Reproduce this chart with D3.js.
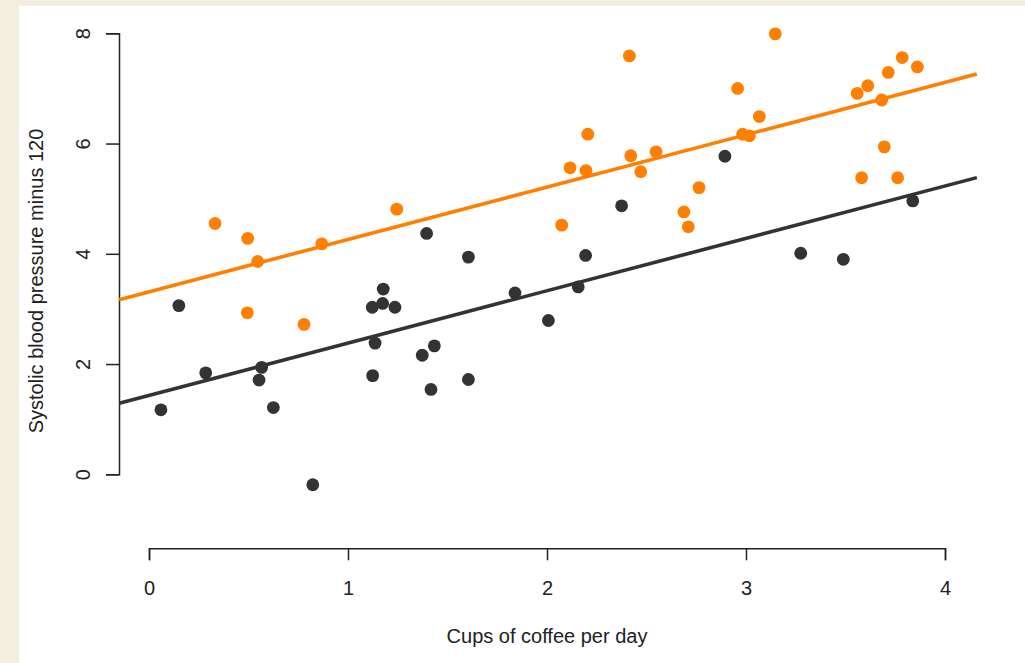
<!DOCTYPE html>
<html>
<head>
<meta charset="utf-8">
<script src="https://cdn.jsdelivr.net/npm/d3@7"></script>
<style>
    body { margin: 0; background: #f2efe1; }
    svg { display: block; }
    .axis path, .axis line { stroke: #222; stroke-width: 1.5; }
    .axis text, .title { font-family: "Liberation Sans", Arial, sans-serif; font-size: 20px; fill: #222; }
</style>
</head>
<body>
<svg class="chart"></svg>
<script>
// cups of coffee per day / systolic BP minus 120
var blackX = [0.06, 0.15, 0.285, 0.566, 0.553, 0.625, 0.823, 1.122, 1.177, 1.174, 1.236, 1.136, 1.124, 1.395,
        1.373, 1.434, 1.417, 1.605, 1.605, 1.839, 2.007, 2.157, 2.194, 2.375, 2.894, 3.275, 3.489, 3.838];
var blackY = [1.17, 3.06, 1.84, 1.94, 1.71, 1.21, -0.19, 3.03, 3.36, 3.10, 3.03, 2.38, 1.79, 4.37,
        2.16, 2.33, 1.54, 3.94, 1.72, 3.29, 2.79, 3.40, 3.97, 4.87, 5.77, 4.01, 3.90, 4.96];
var orangeX = [0.332, 0.496, 0.546, 0.494, 0.779, 0.868, 1.245, 2.074, 2.116, 2.196, 2.205, 2.414, 2.421, 2.471,
        2.548, 2.688, 2.710, 2.764, 2.958, 2.983, 3.017, 3.067, 3.147, 3.559, 3.581, 3.612, 3.682, 3.695,
        3.715, 3.762, 3.785, 3.861];
var orangeY = [4.55, 4.28, 3.86, 2.93, 2.72, 4.18, 4.81, 4.52, 5.56, 5.51, 6.17, 7.59, 5.78, 5.49,
        5.85, 4.76, 4.49, 5.20, 7.00, 6.17, 6.14, 6.49, 7.99, 6.91, 5.38, 7.05, 6.79, 5.94,
        7.29, 5.38, 7.56, 7.39];

// fitted lines (same slope, different intercepts)
var fitSlope = 0.95;
var fitIntercepts = [1.43, 3.31];
var lineExtent = [-0.15, 4.16];

var xTicks = [0, 1, 2, 3, 4];
var yTicks = [0, 2, 4, 6, 8];

var seriesColors = ["#333333", "#ff7f00"];

var width = 1025, height = 663;

var svg = d3.select(".chart")
        .attr("width", width)
        .attr("height", height);

svg.append("rect")
        .attr("x", 19)
        .attr("y", 6)
        .attr("width", width - 19)
        .attr("height", height - 6)
        .attr("fill", "#ffffff");

var xRange = d3.scaleLinear()
        .domain([0, 4])
        .range([149, 945]);
var yRange = d3.scaleLinear()
        .domain([0, 8])
        .range([474.3, 33.3]);

// x axis, offset below the data like R's base plot
var xAxis = svg.append("g")
        .attr("class", "x axis")
        .attr("transform", "translate(0,548.3)")
        .call(d3.axisBottom(xRange).tickValues(xTicks).tickSize(12).tickFormat(d3.format("d")));
xAxis.selectAll("text")
        .attr("y", 47)
        .attr("dy", 0);

var yAxis = svg.append("g")
        .attr("class", "y axis")
        .attr("transform", "translate(119,0)")
        .call(d3.axisLeft(yRange).tickValues(yTicks).tickSize(13).tickFormat(d3.format("d")));
yAxis.selectAll("text")
        .attr("transform", "rotate(-90)")
        .attr("x", 0)
        .attr("y", -29)
        .attr("dy", 0)
        .style("text-anchor", "middle");

svg.append("text")
        .attr("class", "title")
        .attr("x", 547)
        .attr("y", 643)
        .style("text-anchor", "middle")
        .text("Cups of coffee per day");

svg.append("text")
        .attr("class", "title")
        .attr("transform", "translate(43,281) rotate(-90)")
        .style("text-anchor", "middle")
        .text("Systolic blood pressure minus 120");

// regression lines
fitIntercepts.forEach(function (b, i) {
    svg.append("line")
            .attr("x1", xRange(lineExtent[0]))
            .attr("y1", yRange(b + fitSlope * lineExtent[0]))
            .attr("x2", xRange(lineExtent[1]))
            .attr("y2", yRange(b + fitSlope * lineExtent[1]))
            .attr("stroke", seriesColors[i])
            .attr("stroke-width", 3.6);
});

function drawPoints(xs, ys, color) {
    svg.append("g")
            .selectAll("circle")
            .data(xs)
            .enter().append("circle")
            .attr("cx", function (d) { return xRange(d); })
            .attr("cy", function (d, i) { return yRange(ys[i]); })
            .attr("r", 6.4)
            .attr("fill", color);
}

drawPoints(blackX, blackY, seriesColors[0]);
drawPoints(orangeX, orangeY, seriesColors[1]);
</script>
</body>
</html>
